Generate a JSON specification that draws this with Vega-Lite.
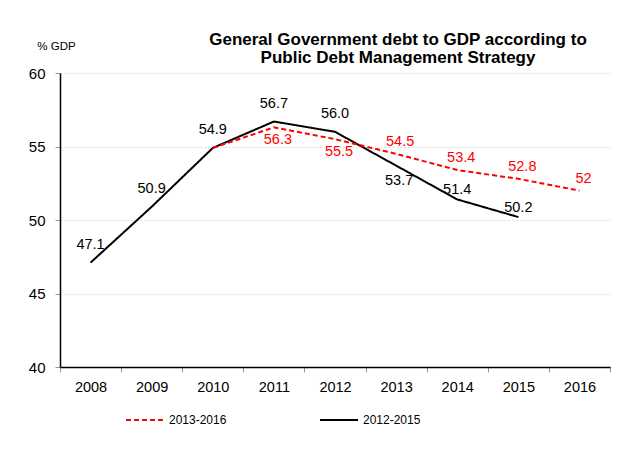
{
  "$schema": "https://vega.github.io/schema/vega-lite/v6.json",
  "width": 550,
  "height": 294,
  "autosize": "none",
  "padding": {"left": 60, "top": 73, "right": 16, "bottom": 83},
  "background": "white",
  "title": {
    "text": ["General Government debt to GDP according to", "Public Debt Management Strategy"],
    "anchor": "middle",
    "dx": 63,
    "offset": -27,
    "font": "Liberation Sans",
    "fontSize": 17,
    "fontWeight": "bold",
    "lineHeight": 18.5,
    "color": "black"
  },
  "config": {
    "view": {"stroke": null},
    "font": "Liberation Sans"
  },
  "data": {
    "values": [
      {"year": "2008", "series": "2012-2015", "value": 47.1},
      {"year": "2009", "series": "2012-2015", "value": 50.9},
      {"year": "2010", "series": "2012-2015", "value": 54.9},
      {"year": "2011", "series": "2012-2015", "value": 56.7},
      {"year": "2012", "series": "2012-2015", "value": 56.0},
      {"year": "2013", "series": "2012-2015", "value": 53.7},
      {"year": "2014", "series": "2012-2015", "value": 51.4},
      {"year": "2015", "series": "2012-2015", "value": 50.2},
      {"year": "2010", "series": "2013-2016", "value": 54.9},
      {"year": "2011", "series": "2013-2016", "value": 56.3},
      {"year": "2012", "series": "2013-2016", "value": 55.5},
      {"year": "2013", "series": "2013-2016", "value": 54.5},
      {"year": "2014", "series": "2013-2016", "value": 53.4},
      {"year": "2015", "series": "2013-2016", "value": 52.8},
      {"year": "2016", "series": "2013-2016", "value": 52}
    ]
  },
  "encoding": {
    "x": {
      "field": "year",
      "type": "ordinal",
      "bandPosition": 0.5,
      "scale": {"type": "band", "domain": ["2008","2009","2010","2011","2012","2013","2014","2015","2016"], "paddingInner": 0, "paddingOuter": 0},
      "axis": {
        "title": null,
        "labelAngle": 0,
        "tickBand": "extent",
        "domainColor": "black",
        "domainWidth": 1.5,
        "tickColor": "#999999",
        "tickSize": 5,
        "labelFont": "Liberation Sans",
        "labelFontSize": 14.5,
        "labelColor": "black",
        "labelPadding": 8,
        "grid": false
      }
    },
    "y": {
      "field": "value",
      "type": "quantitative",
      "scale": {"domain": [40, 60], "nice": false, "zero": false},
      "axis": {
        "values": [40, 45, 50, 55, 60],
        "title": "% GDP",
        "titleAngle": 0,
        "titleX": -4,
        "titleY": -27,
        "titleAlign": "center",
        "titleBaseline": "middle",
        "titleFont": "Liberation Sans",
        "titleFontSize": 11.5,
        "titleFontWeight": "normal",
        "titleColor": "black",
        "domainColor": "black",
        "domainWidth": 1.5,
        "tickColor": "#999999",
        "tickSize": 5,
        "labelFont": "Liberation Sans",
        "labelFontSize": 15,
        "labelColor": "black",
        "labelPadding": 10,
        "grid": true,
        "gridColor": "#dddddd",
        "gridDash": [2, 2],
        "gridWidth": 1
      }
    }
  },
  "layer": [
    {
      "mark": {"type": "line", "strokeWidth": 2},
      "encoding": {
        "color": {
          "field": "series",
          "type": "nominal",
          "scale": {"domain": ["2013-2016", "2012-2015"], "range": ["#ff0000", "#000000"]},
          "legend": {
            "title": null,
            "orient": "none",
            "direction": "horizontal",
            "legendX": 65,
            "legendY": 327,
            "symbolType": "stroke",
            "symbolSize": 1444,
            "symbolStrokeWidth": 2,
            "labelFont": "Liberation Sans",
            "labelFontSize": 12,
            "labelColor": "black",
            "labelOffset": 4,
            "columnPadding": 89
          }
        },
        "strokeDash": {
          "field": "series",
          "type": "nominal",
          "scale": {"domain": ["2013-2016", "2012-2015"], "range": [[5, 3], [1, 0]]},
          "legend": {
            "title": null,
            "orient": "none",
            "direction": "horizontal",
            "legendX": 65,
            "legendY": 327,
            "symbolType": "stroke",
            "symbolSize": 1444,
            "symbolStrokeWidth": 2,
            "labelFont": "Liberation Sans",
            "labelFontSize": 12,
            "labelColor": "black",
            "labelOffset": 4,
            "columnPadding": 89
          }
        }
      }
    },
    {
      "transform": [{"filter": "datum.series == '2012-2015' && indexof(['2008','2009','2010','2011','2012'], datum.year) >= 0"}],
      "mark": {"type": "text", "dy": -18, "fontSize": 14.5, "color": "black", "baseline": "middle"},
      "encoding": {"text": {"field": "value", "type": "quantitative", "format": ".1f"}}
    },
    {
      "transform": [{"filter": "datum.series == '2012-2015' && datum.year == '2013'"}],
      "mark": {"type": "text", "dy": 15, "dx": 3, "fontSize": 14.5, "color": "black", "baseline": "middle"},
      "encoding": {"text": {"field": "value", "type": "quantitative", "format": ".1f"}}
    },
    {
      "transform": [{"filter": "datum.series == '2012-2015' && indexof(['2014','2015'], datum.year) >= 0"}],
      "mark": {"type": "text", "dy": -9, "fontSize": 14.5, "color": "black", "baseline": "middle"},
      "encoding": {"text": {"field": "value", "type": "quantitative", "format": ".1f"}}
    },
    {
      "transform": [{"filter": "datum.series == '2013-2016' && indexof(['2011','2012'], datum.year) >= 0"}],
      "mark": {"type": "text", "dy": 13, "dx": 4, "fontSize": 14.5, "color": "#ff0000", "baseline": "middle"},
      "encoding": {"text": {"field": "value", "type": "quantitative", "format": ".1f"}}
    },
    {
      "transform": [{"filter": "datum.series == '2013-2016' && indexof(['2013','2014','2015','2016'], datum.year) >= 0"}],
      "mark": {"type": "text", "dy": -12, "dx": 4, "fontSize": 14.5, "color": "#ff0000", "baseline": "middle"},
      "encoding": {"text": {"field": "value", "type": "quantitative"}}
    }
  ]
}
